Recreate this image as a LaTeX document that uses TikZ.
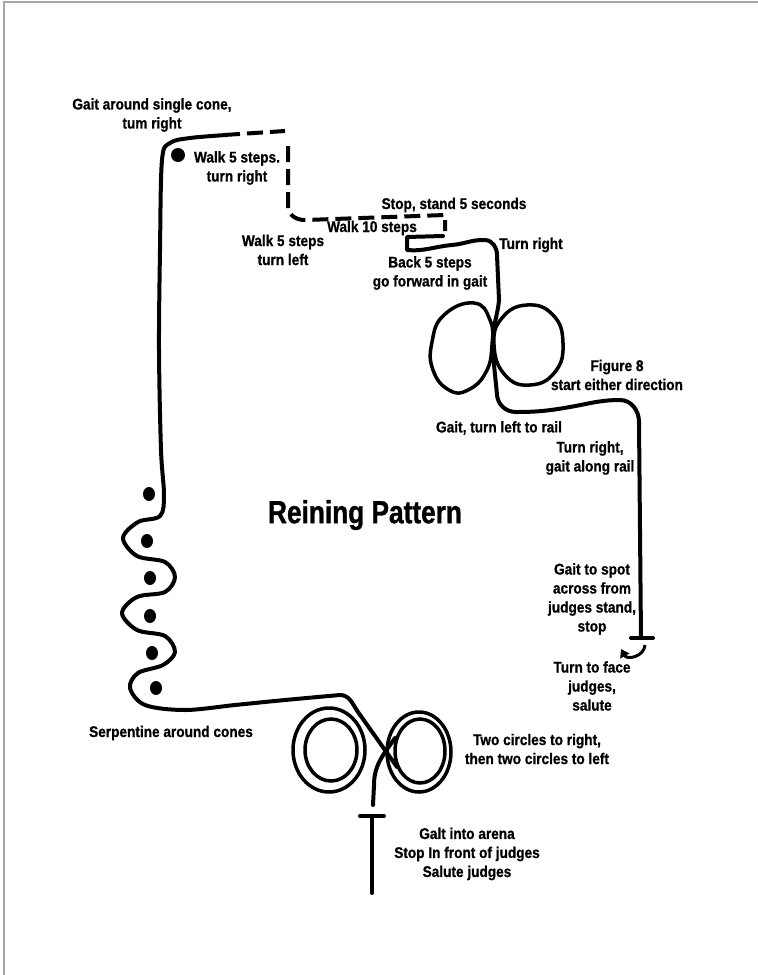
\documentclass[tikz,border=0pt]{standalone}
\usepackage{fontspec}
\usepackage{tikz}
\usetikzlibrary{arrows.meta}
\newfontfamily\notefont[FakeStretch=0.88, BoldFeatures={FakeBold=0.8}]{Liberation Sans}
\newfontfamily\headfont[FakeStretch=0.82, BoldFeatures={FakeBold=1}]{Liberation Sans}

\begin{document}
\begin{tikzpicture}[
  x=1pt, y=-1pt,
  rein/.style = {line width=4pt, line cap=round, line join=round},
  dashrein/.style = {line width=4pt, dash pattern=on 16pt off 7pt},
  loop/.style = {line width=3.5pt},
  cone/.style = {fill=black},
  edge/.style = {gray!70, line width=1.5pt},
  note/.style = {align=center, inner sep=0pt, font=\notefont\bfseries\fontsize{15.5}{19}\selectfont},
  heading/.style = {inner sep=0pt, font=\headfont\bfseries\fontsize{32}{36}\selectfont}
]
\useasboundingbox (0,0) rectangle (758,975);

% Page edges
\draw[edge] (758,2) -- (4,2) -- (4,975);

% Coordinates
\coordinate (stopbox) at (443,236);
\coordinate (railtop) at (630,401);
\coordinate (railend) at (641,638);
\coordinate (entry) at (372,893);
\coordinate (entrystop) at (372,816);

% Single cone and serpentine cones
\fill[cone] (178,155) circle (7);
\foreach \cx/\cy in {149/494, 147/541, 150/578, 150/616, 152/653, 156/688}
  \fill[cone] (\cx,\cy) ellipse[x radius=6, y radius=7];

% Dashed walk: 5 steps, turn right, 5 steps, turn left, 10 steps
\draw[dashrein] (224,135) -- (285,131);
\draw[dashrein] (288,146) -- (288,208) to[out=-80,in=182] (306,220) -- (445,215) -- (445,231);

% Back 5 steps, then gait and figure 8
\draw[rein] (stopbox) -- (407,237) -- (407,250) to[out=-5,in=185] (452,245)
  to[out=5,in=178] (485,240) to[out=-2,in=90] (497,255) -- (499,300)
  to[out=-95,in=90] (493,340) to[out=-90,in=95] (497,395)
  to[out=-85,in=180] (516,412) to[out=0,in=190] (570,407)
  to[out=10,in=180] (620,400) to[out=0,in=90] (639,422) -- (railend);
\draw[rein] (railend) ++(-10,0) -- ++(22,0);
\draw[loop] plot[smooth cycle, tension=0.8] coordinates {(474,303) (490,320) (492,345) (486,372) (468,390) (449,390) (433,370) (432,342) (444,315)};
\draw[loop] plot[smooth cycle, tension=0.8] coordinates {(527,305) (553,315) (563,343) (555,372) (530,385) (505,375) (494,345) (502,318)};

% Turn to face the judges
\draw[line width=3pt, -{Triangle[width=10pt,length=8pt]}] (645,645) .. controls (644,657) and (627,660) .. (621,649);

% Left rail and serpentine
\draw[rein] plot[smooth, tension=0.55] coordinates {(226,135) (190,138) (170,143) (162,160) (160,250) (159,350) (161,450) (164,495) (160,516) (138,522) (123,538) (137,556) (165,562) (175,577) (165,592) (137,597) (122,613) (137,630) (165,636) (175,652) (163,665) (138,673) (130,688) (145,705) (185,710) (235,705) (285,700) (340,695)}
  to[out=0,in=125] (358,712) -- (397,767);

% Two circles each way
\draw[loop] (329,750) ellipse[x radius=36, y radius=42];
\draw[loop] (331,750) ellipse[x radius=26, y radius=31];
\draw[loop] (419,752) ellipse[x radius=32, y radius=40];
\draw[loop] (420,751) ellipse[x radius=25, y radius=32];
\draw[rein] (373,805) -- (374,785) to[out=90,in=-125] (395,738);

% Entry and stop
\draw[rein] (entry) -- (entrystop);
\draw[rein] (entrystop) ++(-12,0) -- ++(24,0);

% Labels
\node[heading] (title) at (365,515) {Reining Pattern};
\node[note] (conetext) at (152,115) {Gait around single cone,\\tum right};
\node[note] (walkright) at (237,168) {Walk 5 steps.\\turn right};
\node[note] (stoptext) at (454,205) {Stop, stand 5 seconds};
\node[note] (walkten) at (372,228) {Walk 10 steps};
\node[note] (walkleft) at (283,250) {Walk 5 steps\\turn left};
\node[note] (backtext) at (430,273) {Back 5 steps\\go forward in gait};
\node[note] (turnright) at (531,245) {Turn right};
\node[note] (eighttext) at (617,375) {Figure 8\\start either direction};
\node[note] (railleft) at (499,428) {Gait, turn left to rail};
\node[note] (railright) at (590,458) {Turn right,\\gait along rail};
\node[note] (spottext) at (592,599) {Gait to spot\\across from\\judges stand,\\stop};
\node[note] (facetext) at (592,686) {Turn to face\\judges,\\salute};
\node[note] (serptext) at (171,733) {Serpentine around cones};
\node[note] (circtext) at (537,749) {Two circles to right,\\then two circles to left};
\node[note] (entrytext) at (467,854) {Galt into arena\\Stop In front of judges\\Salute judges};

\end{tikzpicture}
\end{document}
